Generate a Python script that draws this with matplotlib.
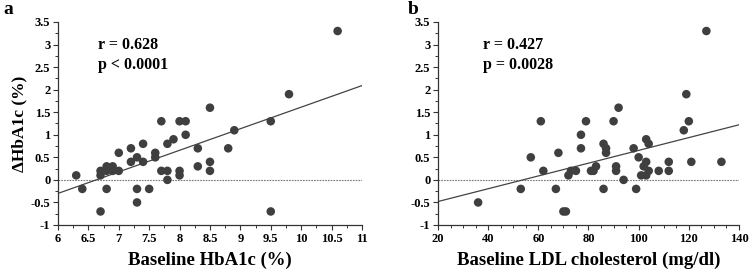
import matplotlib
matplotlib.use("Agg")
import matplotlib.pyplot as plt
from matplotlib.ticker import MultipleLocator
import numpy as np

# ---- data ----
hba1c_x = [6.3, 6.4, 6.7, 6.7, 6.7, 6.8, 6.8, 6.8, 6.9, 6.9, 7.0, 7.0, 7.2, 7.2, 7.3,
           7.3, 7.3, 7.4, 7.4, 7.5, 7.6, 7.6, 7.7, 7.7, 7.8, 7.8, 7.8, 7.9, 8.0, 8.0,
           8.0, 8.1, 8.1, 8.3, 8.3, 8.5, 8.5, 8.5, 8.8, 8.9, 9.5, 9.5, 9.8, 10.6]
hba1c_dy = [0.1, -0.2, -0.7, 0.1, 0.2, 0.3, 0.2, -0.2, 0.3, 0.2, 0.6, 0.2, 0.7, 0.4, 0.5,
            -0.2, -0.5, 0.8, 0.4, -0.2, 0.6, 0.5, 1.3, 0.2, 0.8, 0.2, 0.0, 0.9, 1.3, 0.2,
            0.1, 1.3, 1.0, 0.7, 0.3, 1.6, 0.4, 0.2, 0.7, 1.1, 1.3, -0.7, 1.9, 3.3]

ldl_x = [36, 53, 57, 61, 62, 67, 68, 70, 71, 72, 73, 75, 77, 77, 79, 81, 82, 83, 86, 86,
         87, 87, 90, 92, 91, 91, 94, 98, 99, 100, 101, 102, 103, 103, 104, 103, 104, 108,
         112, 112, 118, 119, 120, 121, 127, 133]
ldl_dy = [-0.5, -0.2, 0.5, 1.3, 0.2, -0.2, 0.6, -0.7, -0.7, 0.1, 0.2, 0.2, 0.7, 1.0, 1.3,
          0.2, 0.2, 0.3, 0.8, -0.2, 0.7, 0.6, 1.3, 1.6, 0.3, 0.2, 0.0, 0.7, -0.2, 0.5,
          0.1, 0.3, 0.4, 0.9, 0.8, 0.1, 0.2, 0.2, 0.4, 0.2, 1.1, 1.9, 1.3, 0.4, 3.3, 0.4]

# regression lines (slope, intercept)
fit_a = (0.478, -3.168)
fit_b = (0.01417, -0.763)

yticks = [-1, -0.5, 0, 0.5, 1, 1.5, 2, 2.5, 3, 3.5]
ytick_labels = ["-1", "-0.5", "0", "0.5", "1", "1.5", "2", "2.5", "3", "3.5"]
xticks_a = [6, 6.5, 7, 7.5, 8, 8.5, 9, 9.5, 10, 10.5, 11]
xtick_labels_a = ["6", "6.5", "7", "7.5", "8", "8.5", "9", "9.5", "10", "10.5", "11"]
xticks_b = [20, 40, 60, 80, 100, 120, 140]
xtick_labels_b = ["20", "40", "60", "80", "100", "120", "140"]

plt.rcParams['font.family'] = ['Liberation Serif', 'DejaVu Serif']
plt.rcParams['font.weight'] = 'bold'

fig = plt.figure(figsize=(7.5, 2.76), dpi=100)
ax_a = fig.add_axes([0.0773, 0.1848, 0.4053, 0.7355])
ax_b = fig.add_axes([0.584, 0.1848, 0.4013, 0.7355])

dot_color = '#3f3f3f'

def style(ax, xlim, xticks, xlabels, xminor):
    ax.set_xlim(*xlim)
    ax.set_ylim(-1, 3.5)
    for s in ['top', 'right']:
        ax.spines[s].set_visible(False)
    for s in ['left', 'bottom']:
        ax.spines[s].set_color('#333333')
        ax.spines[s].set_linewidth(0.9)
    ax.set_yticks(yticks)
    ax.set_yticklabels(ytick_labels)
    ax.set_xticks(xticks)
    ax.set_xticklabels(xlabels)
    ax.yaxis.set_minor_locator(MultipleLocator(0.25))
    ax.xaxis.set_minor_locator(MultipleLocator(xminor))
    ax.tick_params(which='major', direction='out', length=3.5, width=0.8,
                   labelsize=9, color='#333333', pad=2)
    ax.tick_params(which='minor', direction='out', length=2, width=0.7, color='#333333')
    for lab in ax.get_xticklabels() + ax.get_yticklabels():
        lab.set_fontweight('bold')
    ax.axhline(0, color='#777777', lw=0.8, ls=(0, (1.5, 1)), zorder=1)

# panel a
style(ax_a, (6, 11), xticks_a, xtick_labels_a, 0.25)
xs = np.array([6, 11])
ax_a.plot(xs, fit_a[0] * xs + fit_a[1], color='#444444', lw=0.9, zorder=2)
ax_a.scatter(hba1c_x, hba1c_dy, s=38, color=dot_color, edgecolors='none', zorder=3)
ax_a.set_xlabel('Baseline HbA1c (%)', fontsize=13.5, fontweight='bold', labelpad=5)
ax_a.set_ylabel('ΔHbA1c (%)', fontsize=12.5, fontweight='bold', labelpad=2)
ax_a.text(6.66, 2.9, 'r = 0.628', fontsize=11.5, fontweight='bold')
ax_a.text(6.66, 2.46, 'p < 0.0001', fontsize=11.5, fontweight='bold')

# panel b
style(ax_b, (20, 140), xticks_b, xtick_labels_b, 5)
xs = np.array([20, 140])
ax_b.plot(xs, fit_b[0] * xs + fit_b[1], color='#444444', lw=0.9, zorder=2)
ax_b.scatter(ldl_x, ldl_dy, s=38, color=dot_color, edgecolors='none', zorder=3)
ax_b.set_xlabel('Baseline LDL cholesterol (mg/dl)', fontsize=13.5, fontweight='bold', labelpad=5)
ax_b.text(37.8, 2.9, 'r = 0.427', fontsize=11.5, fontweight='bold')
ax_b.text(37.8, 2.46, 'p = 0.0028', fontsize=11.5, fontweight='bold')

fig.text(0.004, 0.995, 'a', fontsize=14, fontweight='bold', va='top', ha='left')
fig.text(0.544, 0.995, 'b', fontsize=14, fontweight='bold', va='top', ha='left')

fig.savefig('out.png', dpi=100)
